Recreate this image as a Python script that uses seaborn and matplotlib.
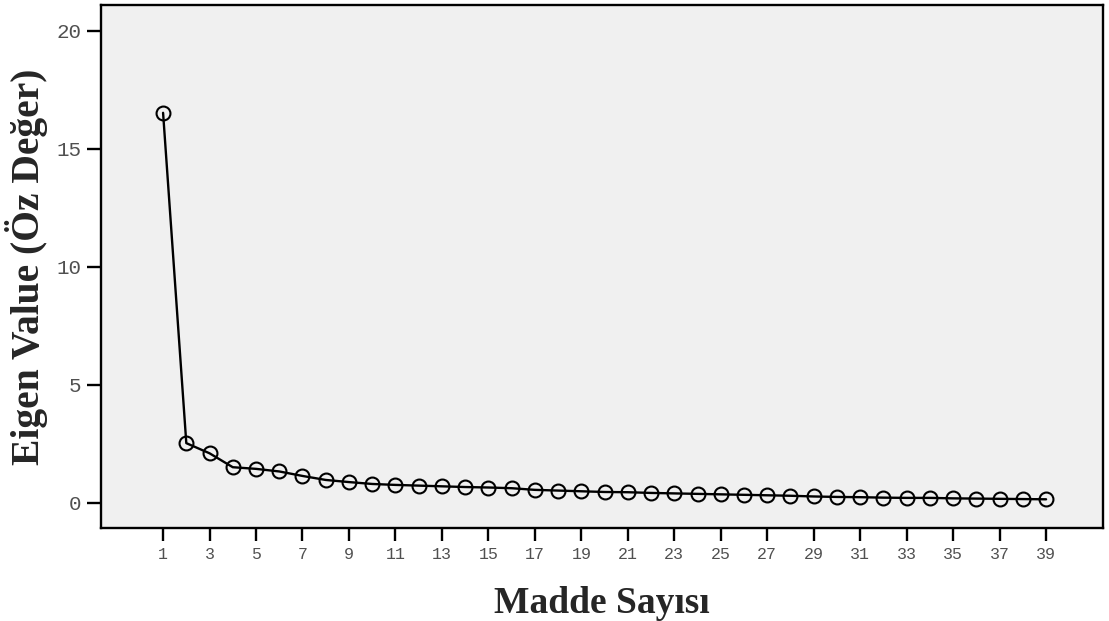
import numpy as np
import pandas as pd
import matplotlib
matplotlib.use('Agg')
import matplotlib.pyplot as plt
import seaborn as sns

# eigenvalues
madde = list(range(1, 40))
eigen = [16.53, 2.53, 2.10, 1.51, 1.44, 1.33, 1.14, 0.97, 0.88, 0.80,
         0.76, 0.73, 0.70, 0.67, 0.65, 0.62, 0.55, 0.52, 0.49, 0.46,
         0.45, 0.42, 0.40, 0.38, 0.36, 0.34, 0.32, 0.30, 0.27, 0.25,
         0.24, 0.22, 0.21, 0.21, 0.19, 0.18, 0.17, 0.16, 0.15]
xticks = list(range(1, 40, 2))
yticks = [0, 5, 10, 15, 20]

data = pd.DataFrame({'madde': madde, 'eigen': eigen})

sns.set_style('ticks')
fig = plt.figure(figsize=(11.09, 6.21), dpi=100)
ax = fig.add_axes([0.0911, 0.150, 0.9035, 0.842])
ax.set_facecolor('#f0f0f0')

sns.lineplot(x='madde', y='eigen', data=data, ax=ax, color='black',
             linewidth=1.7, marker='o', markersize=10,
             markerfacecolor='none', markeredgecolor='black',
             markeredgewidth=1.5)

ax.set_xlim(-1.67, 41.45)
ax.set_ylim(-1.06, 21.1)
ax.set_xticks(xticks)
ax.set_yticks(yticks)
ax.tick_params(axis='x', length=9, width=1.7, color='black', labelsize=12,
               labelcolor='#505050', pad=5)
ax.tick_params(axis='y', length=10, width=1.7, color='black', labelsize=15,
               labelcolor='#505050', pad=4)
for lab in ax.get_xticklabels() + ax.get_yticklabels():
    lab.set_family('Liberation Mono')
for s in ax.spines.values():
    s.set_visible(True)
    s.set_linewidth(1.7)
    s.set_color('black')

ax.set_xlabel('Madde Sayısı', fontsize=27, fontweight='bold',
              family='Liberation Serif', labelpad=17)
ax.set_ylabel('Eigen Value (Öz Değer)', fontsize=28.5, fontweight='bold',
              family='Liberation Serif', labelpad=6)

fig.savefig('out.png', dpi=100)
